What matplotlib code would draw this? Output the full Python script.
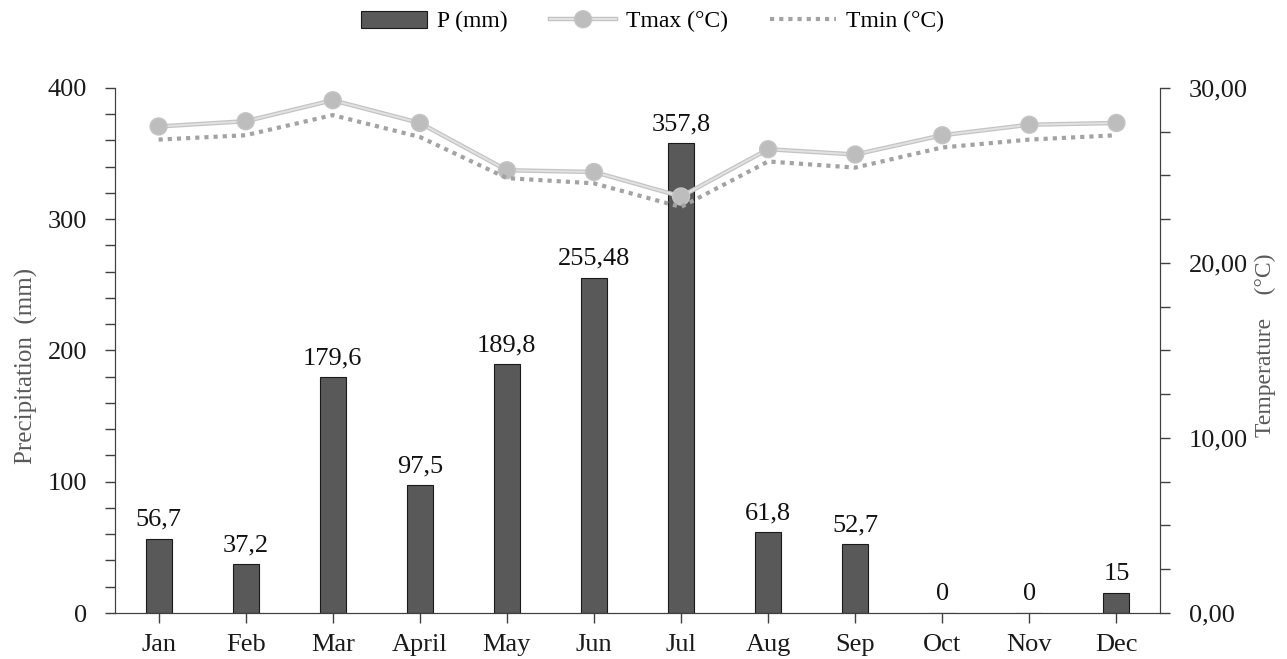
import matplotlib.pyplot as plt
from matplotlib.ticker import MultipleLocator, FuncFormatter
import matplotlib.patheffects as pe

plt.rcParams['font.family'] = ['Liberation Serif', 'DejaVu Serif']

# Дані
months = ['Jan', 'Feb', 'Mar', 'April', 'May', 'Jun', 'Jul', 'Aug', 'Sep', 'Oct', 'Nov', 'Dec']
precip = [56.7, 37.2, 179.6, 97.5, 189.8, 255.48, 357.8, 61.8, 52.7, 0, 0, 15]
precip_labels = ['56,7', '37,2', '179,6', '97,5', '189,8', '255,48', '357,8', '61,8', '52,7', '0', '0', '15']
tmax = [27.8, 28.1, 29.3, 28.0, 25.3, 25.2, 23.8, 26.5, 26.2, 27.3, 27.9, 28.0]
tmin = [27.05, 27.3, 28.45, 27.2, 24.85, 24.55, 23.2, 25.8, 25.45, 26.6, 27.05, 27.3]

fig = plt.figure(figsize=(12.87, 6.59), dpi=100)
ax = fig.add_axes([0.0894, 0.0698, 0.8119, 0.7967])
ax2 = ax.twinx()

x = range(len(months))
bars = ax.bar(x, precip, width=0.3, color='#595959', edgecolor='#1a1a1a', linewidth=0.8, label='P (mm)')

# підписи над стовпцями
for xi, v, lab in zip(x, precip, precip_labels):
    ax.text(xi, v + 6, lab, ha='center', va='bottom', fontsize=19, color='#111111')

ax2.plot(x, tmax, color='#E2E2E2', linewidth=1.4, marker='o', markersize=10,
         markerfacecolor='#BDBDBD', markeredgecolor='#BDBDBD', label='Tmax (°C)',
         path_effects=[pe.Stroke(linewidth=3.2, foreground='#C4C4C4'), pe.Normal()])
ax2.plot(x, tmin, color='#A3A3A3', linewidth=3, linestyle=(0, (1, 1.2)), label='Tmin (°C)')

ax.set_xlim(-0.5, 11.5)
ax.set_ylim(0, 400)
ax2.set_ylim(0, 30)

ax.yaxis.set_major_locator(MultipleLocator(100))
ax.yaxis.set_minor_locator(MultipleLocator(20))
ax2.yaxis.set_major_locator(MultipleLocator(10))
ax2.yaxis.set_minor_locator(MultipleLocator(2.5))
ax2.yaxis.set_major_formatter(FuncFormatter(lambda v, p: f'{v:.2f}'.replace('.', ',')))

ax.set_xticks(list(x))
ax.set_xticklabels(months)

spine_col = '#404040'
for a in (ax, ax2):
    for s in a.spines.values():
        s.set_color(spine_col)
    a.spines['top'].set_visible(False)
    a.tick_params(which='both', direction='out', color=spine_col, length=7, width=1,
                  labelsize=19, labelcolor='#1a1a1a')
ax.tick_params(axis='y', pad=13)
ax2.tick_params(axis='y', pad=14)
ax.tick_params(axis='x', pad=8)

ax.set_ylabel('Precipitation  (mm)', fontsize=18, color='#595959')
ax.yaxis.set_label_coords(-0.074, 0.47)
ax2.set_ylabel('Temperature    (°C)', fontsize=17, color='#595959')
ax2.yaxis.set_label_coords(1.091, 0.51)

h1, l1 = ax.get_legend_handles_labels()
h2, l2 = ax2.get_legend_handles_labels()
fig.legend(h1 + h2, l1 + l2, loc='center', bbox_to_anchor=(0.507, 0.967), ncol=3,
           frameon=False, fontsize=17, handlelength=2.8, columnspacing=1.8, handletextpad=0.4)

fig.savefig('out.png', dpi=100)
